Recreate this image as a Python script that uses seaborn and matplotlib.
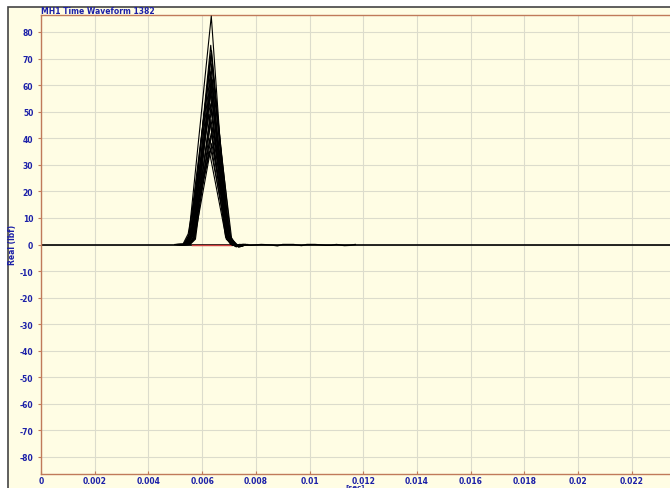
import matplotlib
matplotlib.use("Agg")
import matplotlib.pyplot as plt
from matplotlib.patches import Rectangle
import numpy as np
import pandas as pd
import seaborn as sns

# Hammer hits: onset time, peak time, peak force, end time (seconds / lbf)
t_onset = [0.00530, 0.00540, 0.00535, 0.00545, 0.00538, 0.00548, 0.00532, 0.00542,
           0.00550, 0.00537, 0.00553, 0.00544, 0.00534, 0.00551, 0.00541, 0.00547,
           0.00528, 0.00555, 0.00543, 0.00549, 0.00540, 0.00546, 0.00536, 0.00552,
           0.00539]
t_peak = [0.00634, 0.00632, 0.00635, 0.00633, 0.00630, 0.00636, 0.00628, 0.00631,
          0.00634, 0.00638, 0.00632, 0.00629, 0.00633, 0.00637, 0.00630, 0.00635,
          0.00626, 0.00633, 0.00631, 0.00640, 0.00634, 0.00629, 0.00636, 0.00632,
          0.00627]
peak_force = [86, 75, 73, 72, 70, 68, 66, 65, 63, 62, 60, 58, 57, 55, 53, 51,
              49, 47, 46, 44, 42, 40, 38, 36, 35]
t_end = [0.00712, 0.00716, 0.00722, 0.00718, 0.00712, 0.00726, 0.00710, 0.00720,
         0.00716, 0.00730, 0.00714, 0.00709, 0.00721, 0.00724, 0.00713, 0.00719,
         0.00707, 0.00717, 0.00712, 0.00727, 0.00716, 0.00710, 0.00720, 0.00714,
         0.00708]
# Rounded feet of each pulse: force where the rising / falling edge leaves the toe
toe_rise = [3.0, 2.5, 3.5, 2.0, 3.0, 2.5, 4.0, 3.0, 2.0, 3.5, 2.5, 3.0, 4.0, 2.0,
            3.0, 2.5, 4.0, 2.0, 3.0, 2.5, 3.5, 2.0, 3.0, 2.5, 3.5]
toe_fall = [2.5, 3.0, 2.0, 3.5, 2.5, 3.0, 2.0, 2.5, 3.0, 2.0, 3.5, 2.5, 2.0, 3.0,
            2.5, 2.0, 3.0, 2.5, 3.0, 2.0, 2.5, 3.0, 2.0, 2.5, 3.0]
undershoot = [-0.9, -0.6, -1.0, -0.7, -0.5, -0.8, -0.6, -0.9, -0.4, -0.7, -0.6, -0.5,
              -0.8, -0.6, -0.5, -0.7, -0.4, -0.6, -0.5, -0.8, -0.6, -0.4, -0.7, -0.5,
              -0.4]

# Residual ringing after the hits
tail_t = [0.0074, 0.0078, 0.0082, 0.0086, 0.0088, 0.0090, 0.0094, 0.0097, 0.0099,
          0.0102, 0.0106, 0.0108, 0.0110, 0.0113, 0.0115, 0.0117]
tail_f = [0.0, -0.3, 0.0, -0.2, -0.5, 0.0, 0.0, -0.4, 0.0, 0.0, -0.3, -0.3, 0.0,
          -0.4, -0.3, 0.0]

x_ticks = [0, 0.002, 0.004, 0.006, 0.008, 0.01, 0.012, 0.014, 0.016, 0.018, 0.02, 0.022]
x_tick_labels = ["0", "0.002", "0.004", "0.006", "0.008", "0.01", "0.012", "0.014",
                 "0.016", "0.018", "0.02", "0.022"]
y_ticks = [80, 70, 60, 50, 40, 30, 20, 10, 0, -10, -20, -30, -40, -50, -60, -70, -80]

x_max = 0.02347
y_lim = 86.4

rows = []
toe_dt = 0.00020
for i in range(len(peak_force)):
    a, p, f, e = t_onset[i], t_peak[i], peak_force[i], t_end[i]
    pts_t = [a - 0.0003, a, a + toe_dt, p, e - toe_dt, e, e + 0.00015, e + 0.0004]
    pts_f = [0.0, 0.0, toe_rise[i], f, toe_fall[i], 0.0, undershoot[i], 0.0]
    for t, v in zip(pts_t, pts_f):
        rows.append({"hit": i, "t": t, "force": v})
df = pd.DataFrame(rows)

bg = "#fffde4"
blue = "#1c20a8"
spine_col = "#c07a5a"
grid_col = "#dcdccc"

fig = plt.figure(figsize=(6.70, 4.89), dpi=100)
fig.patch.set_facecolor("white")
frame = Rectangle((8 / 670, -0.01), 1.0, 1 - 8 / 489 + 0.01,
                  transform=fig.transFigure, facecolor=bg,
                  edgecolor="#444444", linewidth=1.2, zorder=-10)
fig.patches.append(frame)

ax = fig.add_axes([41 / 670, 1 - 475 / 489, 1 - 41 / 670 + 0.002, (475 - 16) / 489])
ax.set_zorder(1)
ax.set_facecolor(bg)

ax.set_xlim(0, x_max)
ax.set_ylim(-y_lim, y_lim)
ax.set_xticks(x_ticks)
ax.set_xticklabels(x_tick_labels)
ax.set_yticks(y_ticks)
ax.set_yticklabels([str(v) for v in y_ticks])
ax.grid(True, color=grid_col, linewidth=0.8)
ax.set_axisbelow(True)

for side in ["left", "bottom", "top"]:
    ax.spines[side].set_color(spine_col)
    ax.spines[side].set_linewidth(1.0)
ax.spines["right"].set_visible(False)

ax.tick_params(axis="both", colors=spine_col, labelcolor=blue, labelsize=5.5,
               length=2.5, width=0.8)
ax.tick_params(axis="x", direction="in", pad=1.5)
ax.tick_params(axis="y", direction="out", pad=3)
for lab in ax.get_xticklabels() + ax.get_yticklabels():
    lab.set_fontweight("bold")

# Baseline and the red reference segment under the pulses
ax.plot([0, x_max], [0, 0], color="black", linewidth=1.2, zorder=2)
ax.plot([0.00562, 0.00712], [0, 0], color="#d04040", linewidth=1.0, zorder=3)
ax.plot(tail_t, tail_f, color="black", linewidth=1.0, zorder=3)

sns.lineplot(data=df, x="t", y="force", units="hit", estimator=None,
             color="black", linewidth=0.8, ax=ax, zorder=4, legend=False)
ax.set_xlabel("")
ax.set_ylabel("")

fig.text(41 / 670, 1 - 11.5 / 489, "MH1 Time Waveform 1382", color=blue,
         fontsize=5.5, fontweight="bold", ha="left", va="center")
fig.text(13 / 670, 1 - 245 / 489, "Real (lbf)", color=blue, fontsize=5.5,
         fontweight="bold", rotation=90, ha="center", va="center")
fig.text(355 / 670, 1 - 487.5 / 489, "[sec]", color=blue, fontsize=5.0,
         fontweight="bold", ha="center", va="center")

fig.savefig("out.png", dpi=100, facecolor=fig.get_facecolor())
